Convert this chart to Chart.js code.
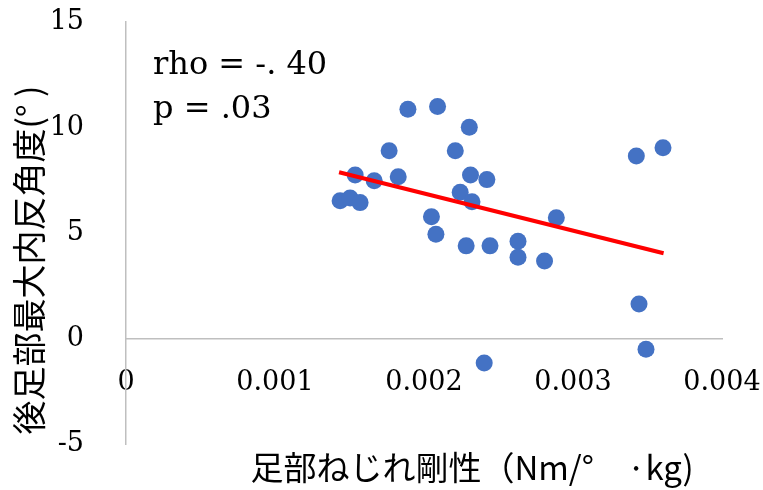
<!DOCTYPE html>
<html>
<head>
<meta charset="utf-8">
<script src="https://cdn.jsdelivr.net/npm/chart.js@4.4.0/dist/chart.umd.min.js"></script>
<style>
  html, body { margin: 0; padding: 0; background: #fff; }
  #wrap { width: 763px; height: 490px; position: relative; }
</style>
</head>
<body>
<div id="wrap"><canvas id="chart" width="763" height="490"></canvas></div>
<script>
// foot torsional stiffness (x) vs max rearfoot inversion angle (y)
const stiffness = [
  0.001437, 0.001504, 0.001571, 0.001538, 0.001666, 0.001766, 0.001827,
  0.001892, 0.002091, 0.00205, 0.00208, 0.00221, 0.002304, 0.002243,
  0.002312, 0.002322, 0.002283, 0.002422, 0.002443, 0.002631, 0.002631,
  0.002809, 0.002888, 0.003425, 0.003604, 0.003443, 0.00349, 0.002404
];
const inversion = [
  6.53, 6.66, 6.44, 7.75, 7.48, 8.90, 7.67,
  10.86, 10.99, 5.77, 4.94, 8.90, 10.01, 6.93,
  7.75, 6.48, 4.39, 7.53, 4.39, 4.61, 3.85,
  3.67, 5.72, 8.65, 9.04, 1.64, -0.51, -1.16
];
const trendX = [0.00143, 0.003608];
const trendY = [7.88, 4.04];

const xTicks = [0, 0.001, 0.002, 0.003, 0.004];
const xTickLabels = ['0', '0.001', '0.002', '0.003', '0.004'];
const yTicks = [-5, 0, 5, 10, 15];
const yTickLabels = ['-5', '0', '5', '10', '15'];

const xTitle = '足部ねじれ剛性（Nm/°　·kg)';
const yTitle = '後足部最大内反角度(° )';
const statLines = ['rho = -. 40', 'p = .03'];

const serif = '"DejaVu Serif", "Liberation Serif", serif';
const cjk = '"Noto Sans CJK JP", "Noto Sans", sans-serif';

// axis titles and the stats note
const textPlugin = {
  id: 'texts',
  afterDraw(chart) {
    const ctx = chart.ctx;
    ctx.save();
    ctx.fillStyle = '#000';
    ctx.font = '32px ' + serif;
    ctx.textAlign = 'left';
    ctx.textBaseline = 'alphabetic';
    ctx.fillText(statLines[0], 153, 74);
    ctx.fillText(statLines[1], 153, 118);

    ctx.font = '33px ' + cjk;
    ctx.textAlign = 'center';
    ctx.textBaseline = 'middle';
    ctx.fillText(xTitle, 472, 467);

    ctx.font = '34px ' + cjk;
    ctx.translate(29, 260);
    ctx.rotate(-Math.PI / 2);
    ctx.fillText(yTitle, 0, 0);
    ctx.restore();
  }
};

new Chart(document.getElementById('chart'), {
  type: 'scatter',
  data: {
    datasets: [
      {
        type: 'line',
        data: trendX.map((x, i) => ({ x: x, y: trendY[i] })),
        borderColor: '#FF0000',
        borderWidth: 4,
        pointRadius: 0,
        fill: false,
        order: 0
      },
      {
        data: stiffness.map((x, i) => ({ x: x, y: inversion[i] })),
        backgroundColor: '#4472C4',
        borderWidth: 0,
        pointRadius: 8.5,
        order: 1
      }
    ]
  },
  options: {
    responsive: false,
    animation: false,
    layout: { padding: { left: 0, top: 22, right: 41, bottom: 46 } },
    plugins: {
      legend: { display: false },
      tooltip: { enabled: false }
    },
    scales: {
      x: {
        type: 'linear',
        position: { y: 0 },
        min: 0,
        max: 0.004,
        afterBuildTicks: (scale) => { scale.ticks = xTicks.map(v => ({ value: v })); },
        afterFit: (scale) => { scale.paddingLeft = 0; scale.paddingRight = 0; },
        ticks: {
          padding: 20,
          color: '#000',
          font: { family: serif, size: 27 },
          maxRotation: 0,
          callback: (v, i) => xTickLabels[i]
        },
        grid: { display: false },
        border: { display: true, color: '#BFBFBF', width: 1.5 }
      },
      y: {
        min: -5,
        max: 15,
        afterBuildTicks: (scale) => { scale.ticks = yTicks.map(v => ({ value: v })); },
        afterFit: (scale) => {
          scale.width = 126;
          scale.paddingTop = 0;
          scale.paddingBottom = 0;
        },
        ticks: {
          padding: 34,
          color: '#000',
          font: { family: serif, size: 27 },
          callback: (v, i) => yTickLabels[i]
        },
        grid: { display: false },
        border: { display: true, color: '#BFBFBF', width: 1.5 }
      }
    }
  },
  plugins: [textPlugin]
});
</script>
</body>
</html>
